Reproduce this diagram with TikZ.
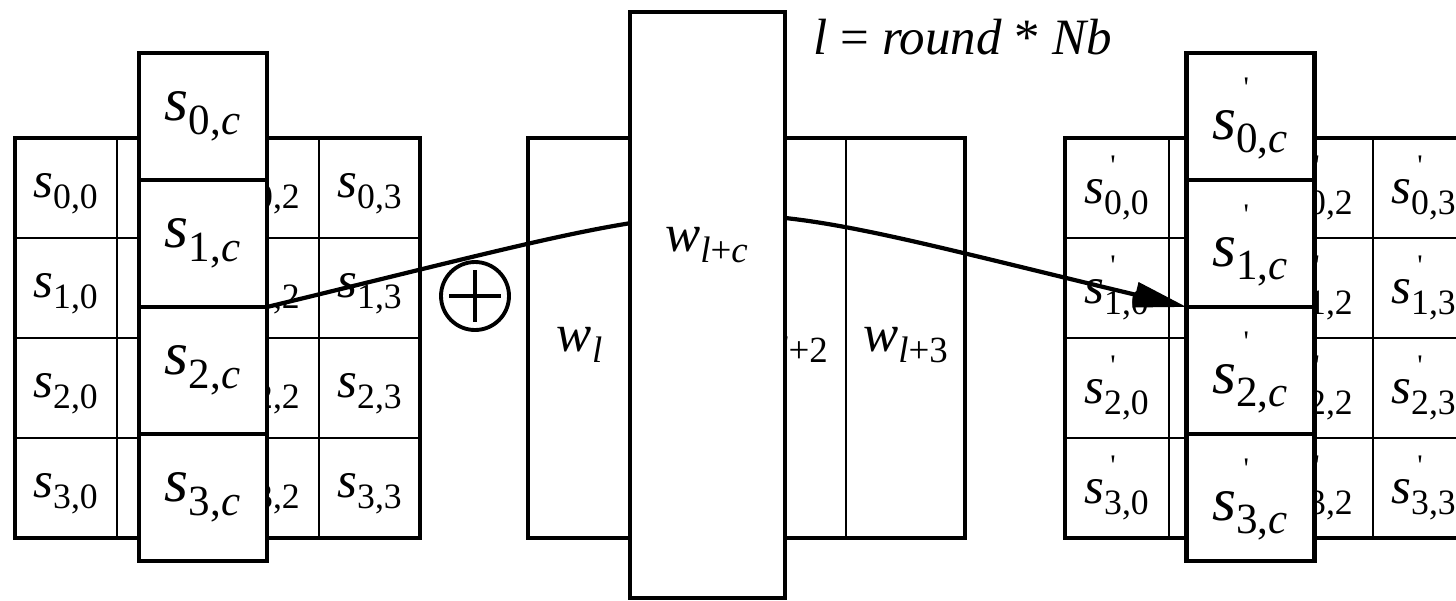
\documentclass[tikz,border=0pt]{standalone}
\usepackage{fontspec}
\setmainfont{Liberation Serif}
\usetikzlibrary{arrows.meta,positioning,calc}
\newcommand{\stv}[2]{\textit{s}\textsubscript{\raisebox{-0.12em}{#1,#2}}}
\newcommand{\stp}[3][0.55em]{\textit{s}\makebox[0pt][l]{\hspace{0.12em}\raisebox{#1}[0pt][0pt]{\fontsize{17}{17}\selectfont\textquotesingle}}\textsubscript{\raisebox{-0.12em}{#2,#3}}}
\newcommand{\wv}[1]{\textit{w}\textsubscript{#1}}

\begin{document}
\begin{tikzpicture}[x=0.02cm,y=-0.02cm,
    thickline/.style={line width=2.4pt},
    thinline/.style={line width=1.3pt},
    celltext/.style={font=\fontsize{29}{32}\selectfont, inner sep=0pt},
    wtext/.style={font=\fontsize{30}{33}\selectfont, inner sep=0pt},
    colcell/.style={draw, line width=2.4pt, fill=white, minimum width=2.56cm,
        minimum height=2.54cm, inner sep=0pt, outer sep=0pt, font=\fontsize{35}{38}\selectfont},
    flow/.style={line width=2.4pt, -{Triangle[length=1.05cm,width=0.5cm]}},
  ]
    \useasboundingbox (0,0) rectangle (1456,600);
    \clip (0,0) rectangle (1456,600);

    % Left state: grid and texts
    \foreach \x in {117,218,319} {
        \draw[thinline] (\x,138) -- (\x,538);
    }
    \foreach \y in {238,338,438} {
        \draw[thinline] (15,\y) -- (420,\y);
    }
    \draw[thickline] (15,138) rectangle (420,538);
    \foreach \r in {0,...,3} {
        \node[celltext] (ls\r0) at (66,{194+100*\r}) {\stv{\r}{0}};
        \node[celltext] (ls\r2) at (268,{194+100*\r}) {\stv{\r}{2}};
        \node[celltext] (ls\r3) at (370,{194+100*\r}) {\stv{\r}{3}};
    }

    % Left column c
    \node[colcell] (lc0) at (203,116.5) {\stv{0}{\textit{c}}};
    \node[colcell, below=0pt of lc0] (lc1) {\stv{1}{\textit{c}}};
    \node[colcell, below=0pt of lc1] (lc2) {\stv{2}{\textit{c}}};
    \node[colcell, below=0pt of lc2] (lc3) {\stv{3}{\textit{c}}};

    % Round key words
    \draw[thinline] (846,138) -- (846,538);
    \draw[thickline] (528,138) rectangle (965,538);
    \node[wtext] (wl) at (580,345) {\wv{\textit{l}}};
    \node[wtext] (wl2) at (786,345) {\wv{\textit{l}+2}};
    \node[wtext] (wl3) at (906,345) {\wv{\textit{l}+3}};

    % Right state: grid and texts
    \foreach \x in {1169,1270,1373} {
        \draw[thinline] (\x,138) -- (\x,538);
    }
    \foreach \y in {238,338,438} {
        \draw[thinline] (1065,\y) -- (1475,\y);
    }
    \draw[thickline] (1065,138) rectangle (1475,538);
    \foreach \r in {0,...,3} {
        \node[celltext] (rs\r0) at (1117,{200+100*\r}) {\stp{\r}{0}};
        \node[celltext] (rs\r2) at (1321,{200+100*\r}) {\stp{\r}{2}};
        \node[celltext] (rs\r3) at (1424,{200+100*\r}) {\stp{\r}{3}};
    }

    % Right column c
    \node[colcell] (rc0) at (1250.5,116.5) {\raisebox{-0.3em}[\height][\depth]{\stp[0.68em]{0}{\textit{c}}}};
    \node[colcell, below=0pt of rc0] (rc1) {\raisebox{-0.3em}[\height][\depth]{\stp[0.68em]{1}{\textit{c}}}};
    \node[colcell, below=0pt of rc1] (rc2) {\raisebox{-0.3em}[\height][\depth]{\stp[0.68em]{2}{\textit{c}}}};
    \node[colcell, below=0pt of rc2] (rc3) {\raisebox{-0.3em}[\height][\depth]{\stp[0.68em]{3}{\textit{c}}}};

    % XOR sign
    \node[draw, circle, line width=2.2pt, minimum size=1.36cm, inner sep=0pt] (xor) at (475,296) {};
    \draw[line width=2.2pt] (xor.center) +(-26,0) -- +(26,0);
    \draw[line width=2.2pt] (xor.center) +(0,-26) -- +(0,26);

    % Column through the key word
    \draw[flow] (lc1.south east) .. controls (768,186) and (682,186) .. (rc1.south west);

    % Key word column on top
    \node[draw, line width=2.4pt, fill=white, minimum width=3.1cm, minimum height=11.72cm] (wc) at (707.5,305) {};
    \node[wtext] (wlc) at (707,245) {\wv{\textit{l}+\textit{c}}};

    % Index of the round key
    \node[font=\fontsize{29}{32}\selectfont, inner sep=0pt] (idx) at (963,37) {\textit{l} = \textit{round} * \textit{Nb}};

\end{tikzpicture}
\end{document}
